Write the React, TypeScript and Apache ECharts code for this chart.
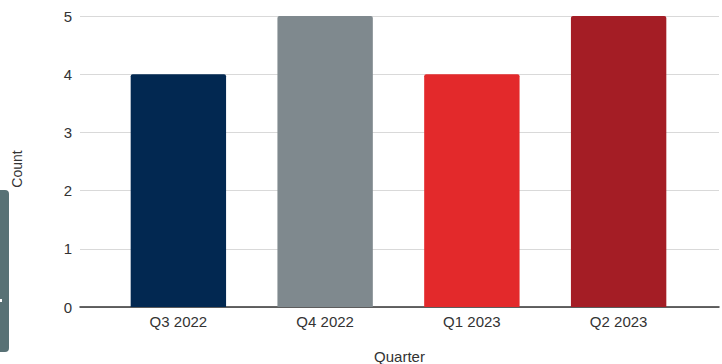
import React, { useEffect, useRef } from "react";
import * as echarts from "echarts";

const categories = ["Q3 2022", "Q4 2022", "Q1 2023", "Q2 2023"];
const counts = [4, 5, 4, 5];
const barColors = ["#022851", "#7f898e", "#e3292b", "#a41d25"];
const yTicks = { min: 0, max: 5, interval: 1 };
const xName = "Quarter";
const yName = "Count";

export default function App() {
  const ref = useRef<HTMLDivElement>(null);
  useEffect(() => {
    if (!ref.current) return;
    const chart = echarts.init(ref.current, null, { renderer: "svg" });
    const font = "Liberation Sans, Arial, sans-serif";
    chart.setOption({
      animation: false,
      backgroundColor: "#ffffff",
      textStyle: { fontFamily: font },
      grid: [
        { left: 80, right: 3, top: 16, bottom: 57, containLabel: false, outerBoundsMode: "none" },
        { left: 105, right: 30, top: 16, bottom: 57, containLabel: false, outerBoundsMode: "none" },
      ],
      xAxis: [
        {
          type: "value",
          gridIndex: 0,
          min: 0,
          max: 1,
          axisLine: { show: true, onZero: false, lineStyle: { color: "#333333", width: 1.5 } },
          axisTick: { show: false },
          axisLabel: { show: false },
          splitLine: { show: false },
          name: xName,
          nameLocation: "middle",
          nameGap: 42,
          nameTextStyle: { color: "#333333", fontSize: 15, fontFamily: font },
        },
        {
          type: "category",
          gridIndex: 1,
          data: categories,
          axisLine: { show: false },
          axisTick: { show: false },
          axisLabel: { color: "#333333", fontSize: 15, margin: 7, fontFamily: font },
        },
      ],
      yAxis: [
        {
          type: "value",
          gridIndex: 0,
          ...yTicks,
          axisLine: { show: false },
          axisTick: { show: false },
          axisLabel: { color: "#333333", fontSize: 15, margin: 8, fontFamily: font },
          splitLine: { lineStyle: { color: "#d9d9d9", width: 1 } },
        },
        {
          type: "value",
          gridIndex: 1,
          ...yTicks,
          show: false,
        },
      ],
      series: [
        {
          type: "bar",
          xAxisIndex: 1,
          yAxisIndex: 1,
          barCategoryGap: "35%",
          data: counts.map((v, i) => ({
            value: v,
            itemStyle: { color: barColors[i], borderRadius: [2, 2, 0, 0] },
          })),
        },
      ],
      graphic: [
        {
          type: "text",
          x: 17,
          y: 169,
          rotation: Math.PI / 2,
          style: {
            text: yName,
            fill: "#333333",
            fontSize: 14,
            fontFamily: font,
            align: "center",
            verticalAlign: "middle",
          },
        },
        {
          type: "rect",
          left: -4,
          top: 190,
          shape: { width: 13, height: 162, r: 4 },
          style: { fill: "#587175" },
        },
        {
          type: "rect",
          left: 0,
          top: 299,
          shape: { width: 2, height: 3 },
          style: { fill: "#ffffff" },
        },
      ],
    });
    return () => chart.dispose();
  }, []);
  return (
    <div
      ref={ref}
      style={{ position: "fixed", left: 0, top: 0, width: 722, height: 364 }}
    />
  );
}
